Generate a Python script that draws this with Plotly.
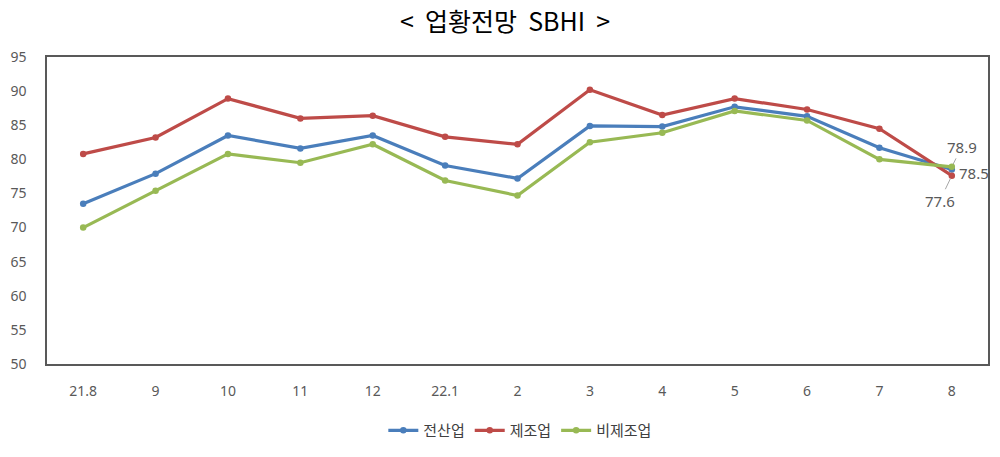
import plotly.graph_objects as go

# 업황전망 SBHI (21.8 ~ 22.8)
months = ["21.8", "9", "10", "11", "12", "22.1", "2", "3", "4", "5", "6", "7", "8"]
all_industry = [73.5, 77.9, 83.5, 81.6, 83.5, 79.1, 77.2, 84.9, 84.8, 87.7, 86.3, 81.7, 78.5]
manufacturing = [80.8, 83.2, 88.9, 86.0, 86.4, 83.3, 82.2, 90.2, 86.5, 88.9, 87.3, 84.5, 77.6]
non_manufacturing = [70.0, 75.4, 80.8, 79.5, 82.2, 76.9, 74.7, 82.5, 83.9, 87.1, 85.7, 80.0, 78.9]

series = [
    ("전산업", all_industry, "#4A7EBB"),
    ("제조업", manufacturing, "#BE4B48"),
    ("비제조업", non_manufacturing, "#98B954"),
]

fig = go.Figure()
for name, vals, color in series:
    fig.add_trace(go.Scatter(
        x=months, y=vals, name=name, mode="lines+markers",
        line=dict(color=color, width=3.2),
        marker=dict(color=color, size=6.5),
    ))

# labels for the last month (category index)
label_font = dict(family="Noto Sans, sans-serif", size=15, color="#595959")
last = len(months) - 1
fig.add_annotation(x=last, y=non_manufacturing[-1], text=f"{non_manufacturing[-1]}",
                   showarrow=True, arrowhead=0, arrowwidth=1, arrowcolor="#A6A6A6",
                   ax=10, ay=-20, standoff=3, font=label_font)
fig.add_annotation(x=last, y=all_industry[-1], text=f"{all_industry[-1]}",
                   showarrow=False, xanchor="left", xshift=5, yshift=-3, font=label_font)
fig.add_annotation(x=last, y=manufacturing[-1], text=f"{manufacturing[-1]}",
                   showarrow=True, arrowhead=0, arrowwidth=1, arrowcolor="#A6A6A6",
                   ax=-12, ay=25, standoff=3, font=label_font)

fig.update_layout(
    width=1000, height=457,
    paper_bgcolor="white", plot_bgcolor="white",
    margin=dict(l=47, r=10, t=57, b=91),
    title=dict(text="<  업황전망  SBHI  >", x=0.505, xanchor="center", y=0.951, yanchor="middle",
               font=dict(family="Noto Sans CJK KR, serif", size=25, color="#000000")),
    legend=dict(orientation="h", x=0.503, xanchor="center", y=-0.217, yanchor="middle",
                font=dict(family="Noto Sans CJK KR, sans-serif", size=15, color="#404040"),
                itemwidth=30, tracegroupgap=0),
    showlegend=True,
)
fig.update_xaxes(
    type="category", range=[-0.5, 12.5], showgrid=False, zeroline=False,
    showline=True, linecolor="#595959", linewidth=1.5, mirror=True,
    ticks="", ticklabelstandoff=13,
    tickfont=dict(family="Noto Sans, sans-serif", size=14, color="#595959"),
)
fig.update_yaxes(
    range=[50, 95], dtick=5, showgrid=False, zeroline=False,
    showline=True, linecolor="#595959", linewidth=1.5, mirror=True,
    ticks="", ticklabelstandoff=16,
    tickfont=dict(family="Noto Sans, sans-serif", size=14, color="#595959"),
)

# drop the default page margin so the figure sits at the window's corner
fig.write_html("out.html", config={"displayModeBar": False},
               post_script="document.body.style.margin='0';")
